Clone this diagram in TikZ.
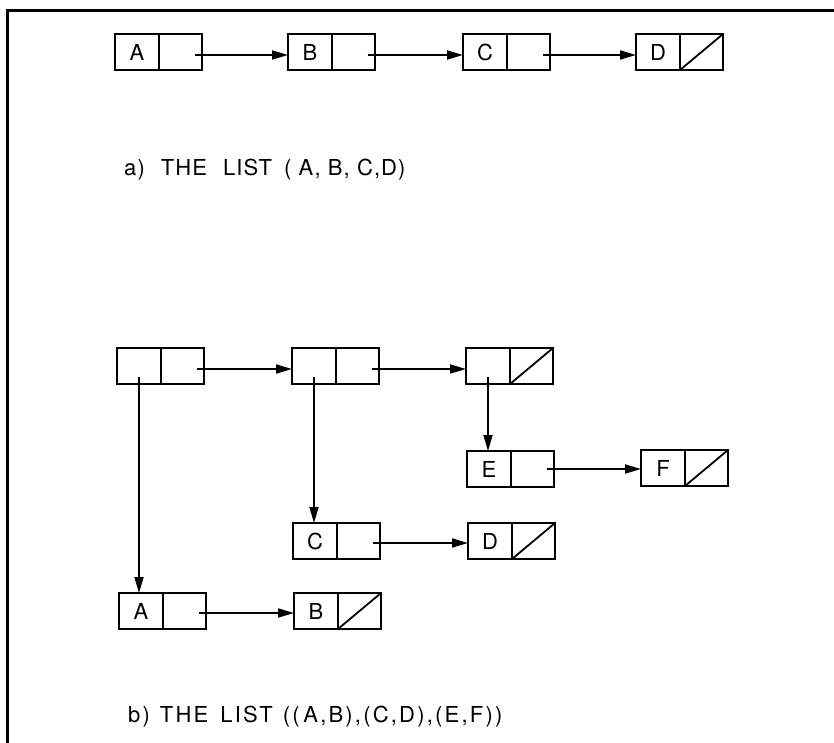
\documentclass[tikz,border=0pt]{standalone}
\usepackage{fontspec}
\setmainfont{TeX Gyre Heros}
\newfontfamily\capfont[LetterSpace=5]{TeX Gyre Heros}
\newfontfamily\capwidefont[LetterSpace=10]{TeX Gyre Heros}
\usetikzlibrary{arrows.meta}

\begin{document}
\begin{tikzpicture}[x=1pt,y=-1pt,
  every node/.style={font=\fontsize{22}{26}\selectfont},
  lcell/.style={draw, line width=2pt, minimum width=44pt, minimum height=36pt,
    inner sep=0pt, outer sep=0pt, anchor=west},
  rcell/.style={draw, line width=2pt, minimum width=43pt, minimum height=36pt,
    inner sep=0pt, outer sep=0pt, anchor=west},
  arr/.style={line width=1.8pt, -{Triangle[length=16pt,width=9pt]}},
  nilslash/.style={line width=1.8pt},
  caption/.style={anchor=west, inner sep=0pt, font=\capfont\fontsize{22}{26}\selectfont},
  widecaption/.style={anchor=west, inner sep=0pt, font=\capwidefont\fontsize{22}{26}\selectfont}]

\useasboundingbox (0,0) rectangle (834,743);
\fill[white] (0,0) rectangle (834,743);

% frame: top and left rules
\draw[line width=3pt] (7,743) -- (7,11) -- (834,11);

% --- a) the flat list (A,B,C,D)
\node[lcell] (pAl) at (115,52) {A};
\node[rcell] (pAr) at (pAl.east) {};
\node[lcell] (pBl) at (288,52) {B};
\node[rcell] (pBr) at (pBl.east) {};
\node[lcell] (pCl) at (463,52) {C};
\node[rcell] (pCr) at (pCl.east) {};
\node[lcell] (pDl) at (636,52) {D};
\node[rcell] (pDr) at (pDl.east) {};
\draw[nilslash] (pDr.south west) -- (pDr.north east);

\draw[arr] ([xshift=14pt,yshift=-3pt]pAr.center) -- ([yshift=-3pt]pBl.west);
\draw[arr] ([xshift=14pt,yshift=-3pt]pBr.center) -- ([yshift=-3pt]pCl.west);
\draw[arr] ([xshift=14pt,yshift=-3pt]pCr.center) -- ([yshift=-3pt]pDl.west);

\node[caption] (capA) at (124,170) {a)\hspace{16pt}THE\hspace{16pt}LIST\hspace{12pt}( A, B, C,D)};

% --- b) the nested list ((A,B),(C,D),(E,F))
\node[lcell] (sOl) at (117,366) {};
\node[rcell] (sOr) at (sOl.east) {};
\node[lcell] (sTl) at (292,366) {};
\node[rcell] (sTr) at (sTl.east) {};
\node[lcell] (sHl) at (466,366) {};
\node[rcell] (sHr) at (sHl.east) {};
\draw[nilslash] (sHr.south west) -- (sHr.north east);

\draw[arr] ([xshift=14pt,yshift=-3pt]sOr.center) -- ([yshift=-3pt]sTl.west);
\draw[arr] ([xshift=14pt,yshift=-3pt]sTr.center) -- ([yshift=-3pt]sHl.west);

\node[lcell] (qEl) at (467,469) {E};
\node[rcell] (qEr) at (qEl.east) {};
\node[lcell] (qFl) at (641,468) {F};
\node[rcell] (qFr) at (qFl.east) {};
\draw[nilslash] (qFr.south west) -- (qFr.north east);
\draw[arr] ([xshift=14pt]qEr.center) -- (qFl.west |- qEr.center);

\node[lcell] (qCl) at (293,541) {C};
\node[rcell] (qCr) at (qCl.east) {};
\node[lcell] (qDl) at (468,541) {D};
\node[rcell] (qDr) at (qDl.east) {};
\draw[nilslash] (qDr.south west) -- (qDr.north east);
\draw[arr] ([xshift=14pt,yshift=-2pt]qCr.center) -- ([yshift=-2pt]qDl.west);

\node[lcell] (qAl) at (119,611) {A};
\node[rcell] (qAr) at (qAl.east) {};
\node[lcell] (qBl) at (294,611) {B};
\node[rcell] (qBr) at (qBl.east) {};
\draw[nilslash] (qBr.south west) -- (qBr.north east);
\draw[arr] ([xshift=14pt,yshift=-2pt]qAr.center) -- ([yshift=-2pt]qBl.west);

% sublist pointers
\draw[arr] ([yshift=-11pt]sOl.center) -- (sOl.center |- qAl.north);
\draw[arr] ([yshift=-11pt]sTl.center) -- (sTl.center |- qCl.north);
\draw[arr] ([yshift=-11pt]sHl.center) -- (sHl.center |- qEl.north);

\node[widecaption] (capB) at (128,717) {b)\hspace{10pt}THE\hspace{12pt}LIST\hspace{10pt}((\,A,B),(C,D),(E,F))};
\end{tikzpicture}
\end{document}
